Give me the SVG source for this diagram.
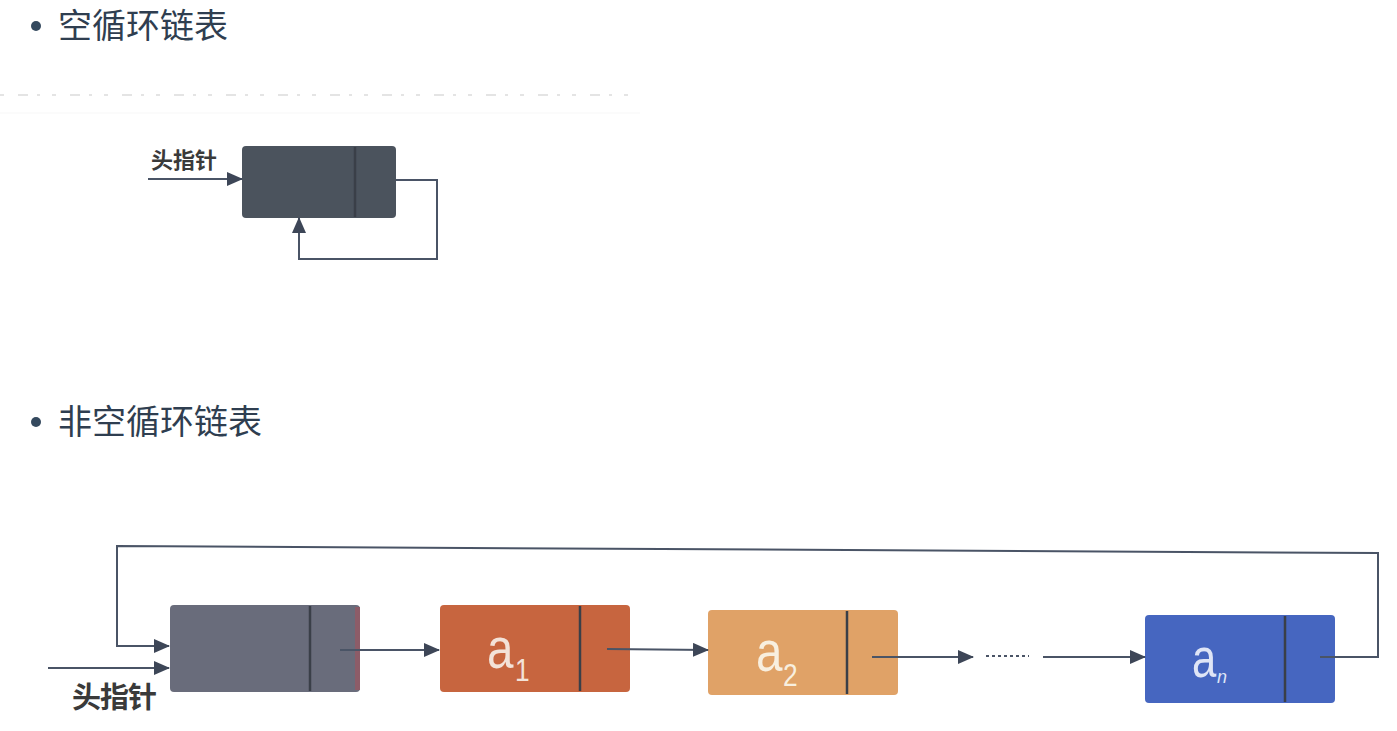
<svg xmlns="http://www.w3.org/2000/svg" width="1397" height="731" viewBox="0 0 1397 731">
<style>
.h{font-family:"Noto Sans CJK SC","Noto Sans",sans-serif;font-size:34px;fill:#2f3e50}
.lbl{font-family:"Noto Sans CJK SC",sans-serif;font-weight:bold;fill:#3a3a3a}
.ln{fill:none;stroke:#4a5466;stroke-width:2}
.div{stroke:#3a3f48;stroke-width:2.5}
.val{font-family:"Liberation Sans","DejaVu Sans",sans-serif}
</style>
<defs>
<marker id="ah" markerUnits="userSpaceOnUse" markerWidth="16" markerHeight="14" refX="15" refY="7" orient="auto">
<path d="M0,0 L16,7 L0,14 Z" fill="#3d4657"/>
</marker>
</defs>
<rect width="1397" height="731" fill="#ffffff"/>

<g id="heading1">
<circle cx="36" cy="26" r="5" fill="#34495e"/>
<text class="h" x="58" y="38">空循环链表</text>
</g>
<g id="heading2">
<circle cx="36" cy="422" r="5" fill="#34495e"/>
<text class="h" x="58" y="434">非空循环链表</text>
</g>

<line x1="0" y1="95" x2="640" y2="95" stroke="#e4e4e4" stroke-width="2" stroke-dasharray="4,14,10,9,3,12"/>
<line x1="0" y1="113" x2="640" y2="113" stroke="#f7f7f7" stroke-width="1"/>

<!-- empty circular list -->
<g id="empty-head">
<rect x="242" y="146" width="154" height="72" rx="4" fill="#4b535d"/>
<line class="div" x1="355" y1="147" x2="355" y2="217"/>
</g>
<g id="empty-label">
<text class="lbl" x="151" y="168" font-size="22">头指针</text>
</g>

<!-- non-empty list -->
<g id="head">
<rect x="170" y="605" width="190" height="87" rx="4" fill="#696c7b"/>
<rect x="355" y="607" width="5" height="83" fill="#8c5c68"/>
<line class="div" x1="310" y1="606" x2="310" y2="691" stroke="#50535f"/>
</g>
<g id="label-head">
<text class="lbl" x="72" y="708" font-size="29" letter-spacing="-1">头指针</text>
</g>
<g id="a1">
<rect x="440" y="605" width="190" height="87" rx="4" fill="#c7653f"/>
<line class="div" x1="580" y1="606" x2="580" y2="691" stroke="#6a3a2a"/>
<text class="val" transform="translate(487,668) scale(0.82,1)" font-size="58" fill="#f3e2d8">a</text>
<text class="val" transform="translate(515,681) scale(0.85,1)" font-size="31" fill="#f3e2d8">1</text>
</g>
<g id="a2">
<rect x="708" y="610" width="190" height="85" rx="4" fill="#e0a267"/>
<line class="div" x1="847" y1="611" x2="847" y2="694" stroke="#7a5a3a"/>
<text class="val" transform="translate(756,671) scale(0.82,1)" font-size="58" fill="#f8efdf">a</text>
<text class="val" transform="translate(783,686) scale(0.85,1)" font-size="31" fill="#f8efdf">2</text>
</g>
<g id="an">
<rect x="1145" y="615" width="190" height="88" rx="4" fill="#4666c0"/>
<line class="div" x1="1285" y1="616" x2="1285" y2="702" stroke="#2c3f7a"/>
<text class="val" transform="translate(1192,677) scale(0.78,1)" font-size="56" fill="#dfe5f6">a</text>
<text class="val" x="1217" y="683" font-size="18" font-style="italic" fill="#dfe5f6">n</text>
</g>

<g id="connectors">
<path class="ln" d="M148 179 L242 179" marker-end="url(#ah)"/>
<path class="ln" d="M396 180 L437 180 L437 259 L299 259 L299 218" marker-end="url(#ah)"/>
<path class="ln" d="M48 668 L169 668" marker-end="url(#ah)"/>
<path class="ln" d="M1320 657 L1378 657 L1378 553 L117 546 L117 646 L169 646" marker-end="url(#ah)"/>
<path class="ln" d="M340 650 L439 650" marker-end="url(#ah)"/>
<path class="ln" d="M607 649 L708 650" marker-end="url(#ah)"/>
<path class="ln" d="M872 657 L973 657" marker-end="url(#ah)"/>
<line x1="986" y1="656" x2="1029" y2="656" stroke="#4a5466" stroke-width="2" stroke-dasharray="3,3"/>
<path class="ln" d="M1043 657 L1145 657" marker-end="url(#ah)"/>
</g>
</svg>
